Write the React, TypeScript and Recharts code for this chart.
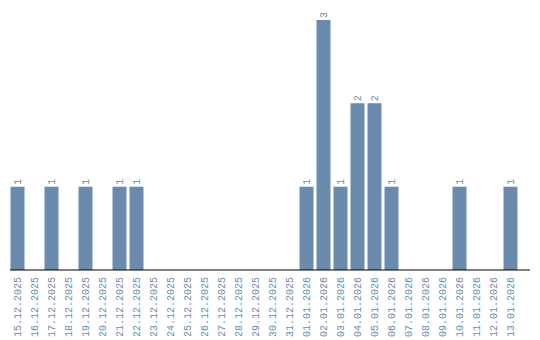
import React from "react";
import { BarChart, Bar, XAxis, YAxis, LabelList } from "recharts";

const dates = [
  "15.12.2025", "16.12.2025", "17.12.2025", "18.12.2025", "19.12.2025",
  "20.12.2025", "21.12.2025", "22.12.2025", "23.12.2025", "24.12.2025",
  "25.12.2025", "26.12.2025", "27.12.2025", "28.12.2025", "29.12.2025",
  "30.12.2025", "31.12.2025", "01.01.2026", "02.01.2026", "03.01.2026",
  "04.01.2026", "05.01.2026", "06.01.2026", "07.01.2026", "08.01.2026",
  "09.01.2026", "10.01.2026", "11.01.2026", "12.01.2026", "13.01.2026",
];
const counts = [1, 0, 1, 0, 1, 0, 1, 1, 0, 0, 0, 0, 0, 0, 0, 0, 0, 1, 3, 1, 2, 2, 1, 0, 0, 0, 1, 0, 0, 1];

const data = dates.map((d, i) => ({ date: d, value: counts[i] }));

const COLOR = "#6a8bad";
const FONT = "'Liberation Mono', monospace";

const Tick = (props: any) => {
  const { x, y, payload } = props;
  return (
    <text
      x={x}
      y={y}
      transform={`rotate(-90, ${x}, ${y})`}
      textAnchor="end"
      dy="0.35em"
      fill={COLOR}
      fontSize={10}
      fontFamily={FONT}
    >
      {payload.value}
    </text>
  );
};

const ValueLabel = (props: any) => {
  const { x, y, width, value } = props;
  if (!value) return null;
  const cx = x + width / 2;
  const cy = y - 2;
  return (
    <text
      x={cx}
      y={cy}
      transform={`rotate(-90, ${cx}, ${cy})`}
      textAnchor="start"
      dy="0.35em"
      fill={COLOR}
      fontSize={10}
      fontFamily={FONT}
    >
      {value}
    </text>
  );
};

export default function App() {
  return (
    <div style={{ position: "absolute", left: 0, top: 0 }}>
      <BarChart
        width={540}
        height={340}
        data={data}
        margin={{ top: 10, right: 10, bottom: 0, left: 10 }}
        barSize={14}
      >
        <XAxis
          dataKey="date"
          interval={0}
          height={70}
          tickLine={false}
          axisLine={{ stroke: "#000", strokeWidth: 1 }}
          tick={<Tick />}
          tickMargin={1}
          padding={{ left: -1.5, right: 11.5 }}
        />
        <YAxis
          width={0}
          tick={false}
          tickLine={false}
          axisLine={{ stroke: "#000", strokeWidth: 1 }}
          domain={[0, 3.12]}
          type="number"
        />
        <Bar dataKey="value" fill={COLOR} isAnimationActive={false}>
          <LabelList dataKey="value" content={<ValueLabel />} />
        </Bar>
      </BarChart>
    </div>
  );
}
